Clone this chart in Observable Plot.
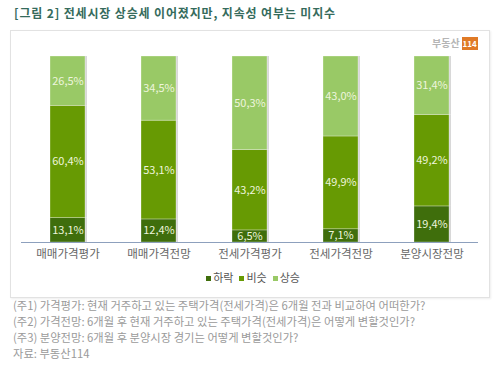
<!DOCTYPE html>
<html><head><meta charset="utf-8">
<script src="https://cdn.jsdelivr.net/npm/d3@7"></script>
<script src="https://cdn.jsdelivr.net/npm/@observablehq/plot@0.6"></script>
<style>
body{margin:0;background:#fff;font-family:"Noto Sans CJK KR","Noto Sans",sans-serif;}
#wrap{position:relative;width:500px;height:375px;overflow:hidden;}
#box{position:absolute;left:10px;top:30px;width:478px;height:266px;border:1px solid #e2e2e2;box-shadow:1px 1px 2px #eee;}
#title{position:absolute;left:14px;top:4px;font-size:12px;font-weight:bold;color:#356b5c;white-space:nowrap;letter-spacing:0.85px;}
#logo{position:absolute;left:432px;top:35px;font-size:10px;font-weight:bold;color:#b5b5b5;white-space:nowrap;}
#logo span{display:inline-block;background:#e07a26;color:#fff;font-size:8px;padding:1px 1px;margin-left:2px;}
#chart{position:absolute;left:0;top:0;}
#legend{position:absolute;left:0;width:500px;top:269px;text-align:center;font-size:11px;color:#555;white-space:nowrap;}
#legend i{display:inline-block;width:5px;height:5px;margin:0 2px 2px 6px;vertical-align:middle;}
.note{position:absolute;left:13px;font-size:11.3px;color:#9a9a9a;white-space:nowrap;}
</style></head>
<body><div id="wrap">
<div id="box"></div>
<div id="title"></div>
<div id="logo">부동산<span>114</span></div>
<div id="chart"></div>
<div id="legend"></div>
</div>
<script>
const categories = ["매매가격평가","매매가격전망","전세가격평가","전세가격전망","분양시장전망"];
const series = ["하락","비슷","상승"];
const down = [13.1, 12.4, 6.5, 7.1, 19.4];
const same = [60.4, 53.1, 43.2, 49.9, 49.2];
const up = [26.5, 34.5, 50.3, 43.0, 31.4];
const colors = ["#3f6e0c","#679a03","#99c966"];
const titleText = "[그림 2] 전세시장 상승세 이어졌지만, 지속성 여부는 미지수";
const notes = [
  "(주1) 가격평가: 현재 거주하고 있는 주택가격(전세가격)은 6개월 전과 비교하여 어떠한가?",
  "(주2) 가격전망: 6개월 후 현재 거주하고 있는 주택가격(전세가격)은 어떻게 변할것인가?",
  "(주3) 분양전망: 6개월 후 분양시장 경기는 어떻게 변할것인가?",
  "자료: 부동산114"
];

const vals = [down, same, up];
const data = [];
series.forEach((s, si) => categories.forEach((c, ci) => data.push({cat: c, series: s, value: vals[si][ci]})));
const fmt = v => v.toFixed(1).replace(".", ",") + "%";

document.getElementById("title").textContent = titleText;

const chart = Plot.plot({
  width: 500, height: 375,
  marginTop: 56, marginBottom: 133, marginLeft: 21, marginRight: 22,
  style: {fontFamily: '"Noto Sans CJK KR", sans-serif', background: "transparent"},
  x: {type: "band", domain: categories, paddingInner: 0.62, paddingOuter: 0.31, label: null, tickSize: 0, tickPadding: 8},
  y: {domain: [0, 100], axis: null},
  color: {domain: series, range: colors},
  marks: [
    Plot.barY(data, Plot.stackY({x: "cat", y: "value", z: "series", order: series, fill: "#d8d8d8", dx: 2, dy: 0})),
    Plot.barY(data, Plot.stackY({x: "cat", y: "value", z: "series", order: series, fill: "series", stroke: "#ffffff", strokeWidth: 0.6, strokeOpacity: 0.5})),
    Plot.text(data, Plot.stackY({x: "cat", y: "value", z: "series", order: series, text: d => fmt(d.value), fill: "#eef5dd", fontSize: 11})),
    Plot.ruleY([0], {stroke: "#8da0bd", strokeWidth: 1.2}),
    Plot.axisX({tickSize: 0, tickPadding: 7, fontSize: 11.5, fill: "#666", label: null})
  ]
});
document.getElementById("chart").appendChild(chart);

const leg = document.getElementById("legend");
series.forEach((s, i) => {
  const sw = document.createElement("i"); sw.style.background = colors[i];
  leg.appendChild(sw);
  leg.appendChild(document.createTextNode(s));
});
const wrap = document.getElementById("wrap");
const tops = [297, 313, 329, 345];
notes.forEach((t, i) => {
  const d = document.createElement("div"); d.className = "note"; d.style.top = tops[i] + "px"; d.textContent = t;
  wrap.appendChild(d);
});
</script>
</body></html>
